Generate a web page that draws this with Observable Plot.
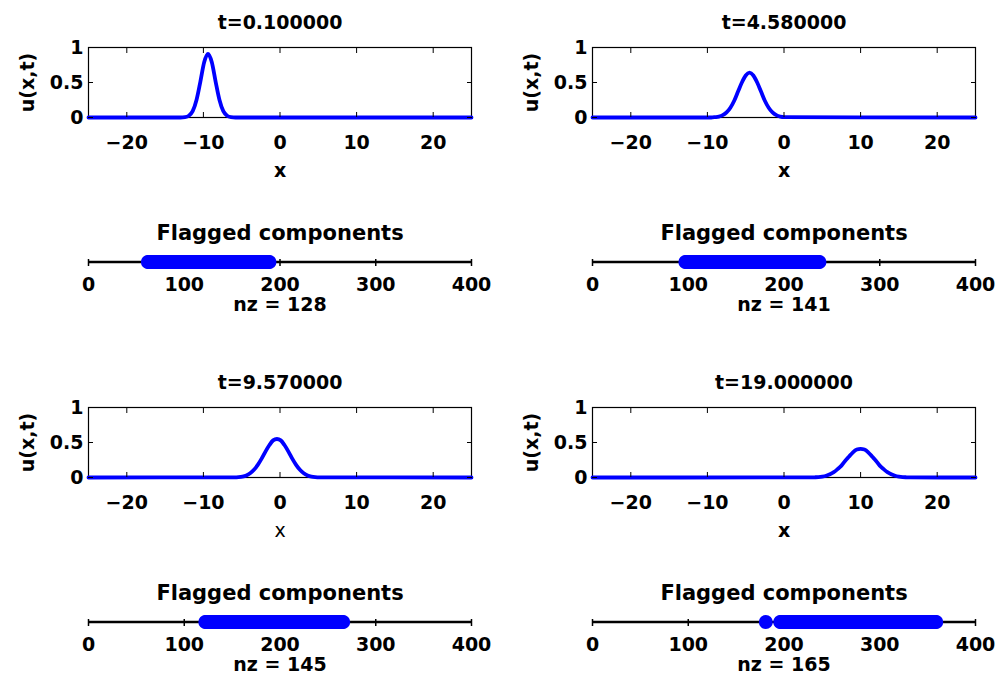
<!DOCTYPE html>
<html>
<head>
<meta charset="utf-8">
<script src="https://cdn.jsdelivr.net/npm/d3@7"></script>
<script src="https://cdn.jsdelivr.net/npm/@observablehq/plot@0.6"></script>
<style>
  html, body { margin: 0; padding: 0; background: #fff; }
  #chart { position: relative; width: 996px; height: 685px; background: #fff; overflow: hidden; }
  #chart svg { position: absolute; overflow: visible; }
</style>
</head>
<body>
<div id="chart"></div>
<script>
// ---- Data ----
const titles = ["t=0.100000", "t=4.580000", "t=9.570000", "t=19.000000"];

const x1 = [-25, -13, -12.4, -11.9, -11.4, -10.9, -10.4, -9.9, -9.4, -8.9, -8.4, -7.9, -7.4, -6.9, -6.4, -5.8, 25];
const u1 = [0, 0, 0.005, 0.025, 0.09, 0.25, 0.51, 0.79, 0.91, 0.79, 0.51, 0.25, 0.09, 0.025, 0.005, 0, 0];

const x2 = [-25, -9.5, -9, -8.5, -8, -7.5, -7, -6.5, -6, -5.5, -5, -4.5, -4, -3.5, -3, -2.5, -2, -1.5, -1, -0.5, 0, 25];
const u2 = [0, 0, 0.005, 0.013, 0.033, 0.073, 0.14, 0.24, 0.37, 0.50, 0.60, 0.64, 0.60, 0.50, 0.37, 0.24, 0.14, 0.073, 0.033, 0.013, 0.005, 0];

const x3 = [-25, -5.9, -5.4, -4.9, -4.4, -3.9, -3.4, -2.9, -2.4, -1.9, -1.4, -0.9, -0.4, 0.1, 0.6, 1.1, 1.6, 2.1, 2.6, 3.1, 3.6, 4.1, 4.6, 5.1, 25];
const u3 = [0, 0.002, 0.006, 0.014, 0.03, 0.06, 0.11, 0.18, 0.27, 0.37, 0.46, 0.53, 0.55, 0.53, 0.46, 0.37, 0.27, 0.18, 0.11, 0.06, 0.03, 0.014, 0.006, 0.002, 0];

const x4 = [-25, 3.5, 4, 4.5, 5, 5.5, 6, 6.5, 7, 7.5, 8, 8.5, 9, 9.5, 10, 10.5, 11, 11.5, 12, 12.5, 13, 13.5, 14, 14.5, 15, 15.5, 16, 16.5, 25];
const u4 = [0, 0.001, 0.003, 0.006, 0.013, 0.025, 0.046, 0.076, 0.12, 0.17, 0.24, 0.30, 0.36, 0.40, 0.41, 0.40, 0.36, 0.30, 0.24, 0.17, 0.12, 0.076, 0.046, 0.025, 0.013, 0.006, 0.003, 0.001, 0];

// flagged component runs [first, last] (inclusive column indices)
const flagged1 = [[62, 189]];
const flagged2 = [[97, 237]];
const flagged3 = [[122, 266]];
const flagged4 = [[181, 181], [196, 359]];

const xTicks = [-20, -10, 0, 10, 20];
const yTicks = [0, 0.5, 1];
const spyTicks = [0, 100, 200, 300, 400];
const yLabel = "u(x,t)";
const xLabel = "x";
const spyTitle = "Flagged components";

// ---- Drawing ----
const chart = document.getElementById("chart");
const FONT = {fontFamily: "'DejaVu Sans', sans-serif", fontWeight: "bold", fontSize: "19px", background: "transparent", color: "black"};
const fmtX = d => d < 0 ? "\u2212" + Math.abs(d) : String(d);
const fmtY = d => String(d);

function place(svg, left, top) {
  svg.style.left = left + "px";
  svg.style.top = top + "px";
  chart.appendChild(svg);
}

function linePanel(xs, us, title, col, top, xLabelWeight) {
  const data = xs.map((x, i) => ({x, u: us[i]}));
  const left = col === 0 ? 0 : 500;
  const width = col === 0 ? 500 : 496;
  const mL = col === 0 ? 88 : 92;
  const mR = col === 0 ? 29 : 21;
  const svg = Plot.plot({
    width, height: 180,
    marginLeft: mL, marginRight: mR, marginTop: 47, marginBottom: 63,
    style: FONT,
    x: {domain: [-25, 25], label: null},
    y: {domain: [0, 1], label: null},
    marks: [
      Plot.frame({stroke: "black", strokeWidth: 1.2}),
      Plot.line(data, {x: "x", y: "u", stroke: "#0000ff", strokeWidth: 3.8, curve: "monotone-x"}),
      Plot.axisX({anchor: "bottom", ticks: xTicks, tickSize: -5, tickFormat: () => "", label: null}),
      Plot.axisX({anchor: "top", ticks: xTicks, tickSize: -5, tickFormat: () => "", label: null}),
      Plot.axisY({anchor: "left", ticks: yTicks, tickSize: -5, tickFormat: () => "", label: null}),
      Plot.axisY({anchor: "right", ticks: yTicks, tickSize: -5, tickFormat: () => "", label: null}),
      Plot.axisX({anchor: "bottom", ticks: xTicks, tickSize: 0, tickPadding: 18, tickFormat: fmtX, label: null}),
      Plot.axisY({anchor: "left", ticks: yTicks, tickSize: 0, tickPadding: 5, tickFormat: fmtY, label: null}),
      Plot.text([title], {frameAnchor: "top", dy: -25, lineAnchor: "middle", textAnchor: "middle"}),
      Plot.text([yLabel], {frameAnchor: "left", rotate: -90, dx: -61, lineAnchor: "middle", textAnchor: "middle"}),
      Plot.text([xLabel], {frameAnchor: "bottom", dy: 53, lineAnchor: "middle", textAnchor: "middle", fontWeight: xLabelWeight})
    ]
  });
  place(svg, left, top);
}

function spyPanel(runs, col, top) {
  const idx = runs.flatMap(([a, b]) => d3.range(a, b + 1));
  const left = col === 0 ? 0 : 500;
  const width = col === 0 ? 500 : 496;
  const mL = col === 0 ? 88 : 92;
  const mR = col === 0 ? 29 : 21;
  const svg = Plot.plot({
    width, height: 120,
    marginLeft: mL, marginRight: mR, marginTop: 58, marginBottom: 55,
    style: FONT,
    x: {domain: [0, 400], label: null},
    y: {domain: [0, 1], label: null, axis: null},
    marks: [
      Plot.ruleY([0.5], {stroke: "black", strokeWidth: 2.5}),
      Plot.axisX({anchor: "top", ticks: spyTicks, tickSize: -7, tickFormat: () => "", label: null, strokeWidth: 1.5}),
      Plot.dot(idx, {x: d => d, y: () => 0.5, r: 7, fill: "#0000ff", stroke: "none"}),
      Plot.axisX({anchor: "bottom", ticks: spyTicks, tickSize: 0, tickPadding: 12, tickFormat: d => String(d), label: null}),
      Plot.text([spyTitle], {frameAnchor: "top", dy: -25, lineAnchor: "middle", textAnchor: "middle", fontSize: 21}),
      Plot.text([`nz = ${idx.length}`], {frameAnchor: "bottom", dy: 39, lineAnchor: "middle", textAnchor: "middle"})
    ]
  });
  place(svg, left, top);
}

linePanel(x1, u1, titles[0], 0, 0, "bold");
linePanel(x2, u2, titles[1], 1, 0, "bold");
spyPanel(flagged1, 0, 200);
spyPanel(flagged2, 1, 200);
linePanel(x3, u3, titles[2], 0, 360, "normal");
linePanel(x4, u4, titles[3], 1, 360, "bold");
spyPanel(flagged3, 0, 560);
spyPanel(flagged4, 1, 560);
</script>
</body>
</html>
